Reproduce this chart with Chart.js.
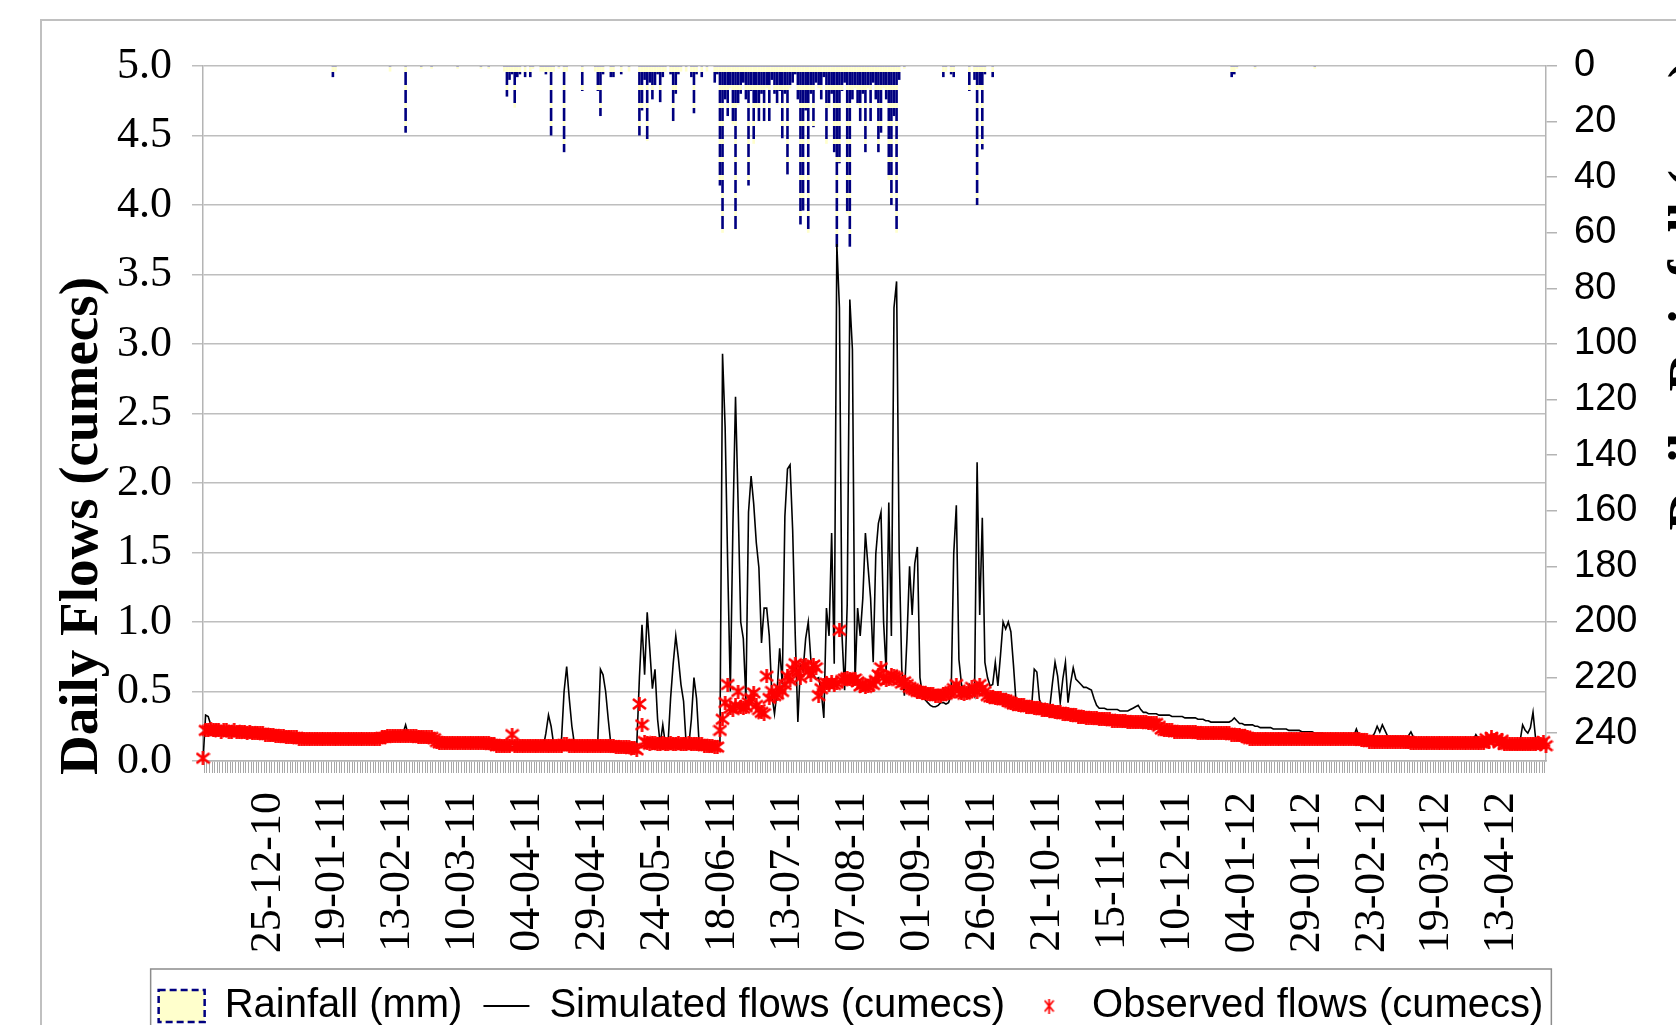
<!DOCTYPE html>
<html>
<head>
<meta charset="utf-8">
<title>Daily flows and rainfall</title>
<script src="https://cdn.jsdelivr.net/npm/chart.js@4.4.1/dist/chart.umd.min.js"></script>
<style>
  html, body { margin: 0; padding: 0; background: #fff; overflow: hidden; }
  #wrap { position: absolute; left: 0; top: 0; }
</style>
</head>
<body>
<div id="wrap"><canvas id="myChart" width="1760" height="1036"></canvas></div>
<script>

// x-axis: one category per day from 30-11-2010, label shown every 25 days
var tickLabels = ['25-12-10', '19-01-11', '13-02-11', '10-03-11', '04-04-11', '29-04-11', '24-05-11',
	'18-06-11', '13-07-11', '07-08-11', '01-09-11', '26-09-11', '21-10-11', '15-11-11', '10-12-11',
	'04-01-12', '29-01-12', '23-02-12', '19-03-12', '13-04-12'];

// daily rainfall (mm), right axis (reversed)
var rainfall = [
	0,0,0,0,0,0,0,0,0,0,0,0,0,0,0,0,0,0,0,0,0,0,0,0,0,
	0,0,0,0,0,0,0,0,0,0,0,0,0,0,0,0,0,0,0,0,0,0,0,0,0,
	4,2,0,0,0,0,0,0,0,0,0,0,0,0,0,0,0,0,0,0,0,0,2,0,0,
	0,0,0,24,0,0,0,0,0,1,0,0,0,1,0,0,0,0,0,0,0,0,0,1,0,
	0,0,0,0,0,0,0,1,0,0,1,0,0,0,0,0,2,11,5,3,15,4,3,0,4,
	0,4,1,0,0,2,2,3,2,25,2,0,1,0,31,2,0,0,0,0,0,9,0,0,0,
	0,2,9,18,3,0,0,4,4,0,0,3,0,0,2,0,0,0,25,16,5,27,6,12,7,
	3,13,4,2,0,3,20,10,3,2,0,2,0,4,17,3,0,4,0,2,0,0,6,3,43,
	60,12,18,8,21,59,14,10,6,12,43,9,28,15,20,10,20,8,20,5,10,14,9,26,10,
	39,8,6,3,12,57,52,16,60,10,22,6,8,12,4,28,15,10,31,66,35,9,6,53,65,
	12,8,14,20,10,31,8,20,6,12,31,24,8,12,41,50,18,60,5,0,1,0,0,0,0,
	0,0,0,0,0,0,0,0,0,0,4,2,0,3,4,0,0,0,0,0,9,0,5,50,8,
	30,3,0,0,4,0,0,0,0,0,0,0,0,0,0,0,0,0,0,0,0,0,0,0,0,
	0,0,0,0,0,0,0,0,0,0,0,0,0,0,0,0,0,0,0,0,0,0,0,0,0,
	0,0,0,0,0,0,0,0,0,0,0,0,0,0,0,0,0,0,0,0,0,0,0,0,0,
	0,0,0,0,0,0,0,0,0,0,0,0,0,0,0,0,0,0,0,0,0,4,3,1,0,
	0,0,0,0,0,1,0,0,0,0,0,0,0,0,0,0,0,0,0,0,0,0,0,0,0,
	0,0,0,1,0,0,0,0,0,0,0,0,0,0,0,0,0,0,0,0,0,0,0,0,0,
	0,0,0,0,0,0,0,0,0,0,0,0,0,0,0,0,0,0,0,0,0,0,0,0,0,
	0,0,0,0,0,0,0,0,0,0,0,0,0,0,0,0,0,0,0,0,0,0,0,0,0,
	0,0,0,0,0,0,0,0,0,0,0,0,0,0,0,0,0,0
];

// simulated daily flows (cumecs)
var simulated = [
	0.00,0.33,0.32,0.26,0.22,0.21,0.21,0.21,0.21,0.21,0.21,0.20,0.20,0.20,0.20,0.20,0.20,0.20,0.19,0.19,0.19,0.19,0.19,0.19,0.18,
	0.18,0.18,0.18,0.17,0.17,0.17,0.17,0.17,0.16,0.16,0.16,0.16,0.16,0.16,0.15,0.15,0.15,0.15,0.15,0.15,0.15,0.15,0.15,0.15,0.15,
	0.15,0.15,0.15,0.15,0.15,0.15,0.15,0.15,0.15,0.15,0.15,0.15,0.15,0.15,0.15,0.15,0.15,0.15,0.15,0.16,0.16,0.17,0.17,0.17,0.17,
	0.17,0.17,0.20,0.26,0.19,0.17,0.17,0.17,0.16,0.16,0.16,0.16,0.16,0.16,0.15,0.13,0.12,0.12,0.12,0.12,0.12,0.12,0.12,0.12,0.12,
	0.12,0.12,0.12,0.12,0.12,0.12,0.12,0.12,0.12,0.12,0.12,0.11,0.11,0.10,0.10,0.10,0.10,0.10,0.10,0.10,0.10,0.10,0.10,0.10,0.10,
	0.10,0.10,0.10,0.10,0.10,0.10,0.10,0.20,0.33,0.25,0.12,0.10,0.10,0.15,0.50,0.68,0.45,0.25,0.12,0.10,0.10,0.10,0.10,0.10,0.10,
	0.10,0.10,0.15,0.66,0.62,0.50,0.30,0.12,0.10,0.10,0.10,0.10,0.10,0.10,0.10,0.10,0.10,0.12,0.60,0.98,0.62,1.07,0.80,0.52,0.66,
	0.30,0.12,0.26,0.12,0.12,0.45,0.70,0.90,0.74,0.55,0.43,0.12,0.11,0.30,0.60,0.45,0.12,0.11,0.11,0.11,0.10,0.10,0.10,0.10,0.12,
	2.93,2.40,1.40,0.50,1.70,2.62,1.85,1.00,0.88,0.44,1.79,2.05,1.85,1.57,1.39,0.85,1.10,1.10,0.90,0.47,0.34,0.50,0.81,0.55,1.76,
	2.10,2.13,1.66,0.90,0.28,0.69,0.65,0.88,1.00,0.73,0.62,0.59,0.60,0.50,0.31,1.10,0.90,1.64,0.70,3.72,3.26,0.90,0.51,1.13,3.32,
	2.96,0.56,1.10,0.90,1.17,1.64,1.40,1.17,0.71,1.49,1.71,1.79,1.00,0.64,1.86,0.90,3.26,3.45,1.50,0.66,0.47,0.88,1.40,1.05,1.42,
	1.54,0.60,0.47,0.44,0.42,0.40,0.39,0.39,0.40,0.42,0.42,0.41,0.42,0.47,1.49,1.84,0.73,0.55,0.50,0.47,0.55,0.52,0.47,2.15,1.05,
	1.75,0.71,0.60,0.54,0.55,0.71,0.54,0.76,1.00,0.95,1.00,0.93,0.69,0.42,0.40,0.40,0.39,0.39,0.39,0.39,0.66,0.64,0.44,0.40,0.39,
	0.39,0.39,0.56,0.71,0.61,0.42,0.59,0.71,0.42,0.56,0.67,0.59,0.57,0.55,0.53,0.53,0.52,0.51,0.45,0.40,0.38,0.38,0.38,0.37,0.37,
	0.37,0.37,0.37,0.36,0.36,0.36,0.36,0.37,0.38,0.39,0.40,0.37,0.35,0.35,0.34,0.34,0.34,0.34,0.33,0.33,0.33,0.33,0.33,0.32,0.32,
	0.32,0.32,0.32,0.31,0.31,0.31,0.31,0.31,0.30,0.30,0.30,0.29,0.29,0.28,0.28,0.28,0.28,0.28,0.28,0.28,0.28,0.29,0.31,0.29,0.27,
	0.27,0.26,0.26,0.26,0.26,0.25,0.25,0.24,0.24,0.24,0.24,0.24,0.23,0.23,0.23,0.23,0.23,0.23,0.22,0.22,0.22,0.22,0.22,0.21,0.21,
	0.21,0.21,0.21,0.20,0.20,0.20,0.20,0.19,0.19,0.19,0.19,0.19,0.18,0.18,0.18,0.18,0.18,0.18,0.18,0.23,0.18,0.17,0.17,0.17,0.17,
	0.17,0.20,0.25,0.21,0.26,0.22,0.18,0.17,0.17,0.17,0.17,0.16,0.16,0.16,0.18,0.21,0.17,0.16,0.16,0.16,0.16,0.16,0.16,0.16,0.16,
	0.15,0.15,0.15,0.15,0.15,0.15,0.15,0.15,0.15,0.15,0.15,0.15,0.15,0.15,0.15,0.19,0.16,0.15,0.15,0.15,0.15,0.15,0.15,0.15,0.15,
	0.17,0.14,0.14,0.14,0.14,0.14,0.14,0.14,0.26,0.22,0.20,0.24,0.35,0.16,0.14,0.14,0.13,0.13
];

// observed daily flows (cumecs)
var observed = [
	0.02,0.22,0.22,0.23,0.22,0.22,0.22,0.21,0.22,0.22,0.21,0.21,0.22,0.21,0.21,0.21,0.21,0.20,0.21,0.20,0.20,0.20,0.20,0.20,0.19,
	0.19,0.19,0.19,0.18,0.18,0.18,0.18,0.17,0.17,0.17,0.17,0.17,0.16,0.16,0.16,0.16,0.16,0.16,0.16,0.16,0.16,0.16,0.16,0.16,0.16,
	0.16,0.16,0.16,0.16,0.16,0.16,0.16,0.16,0.16,0.16,0.16,0.16,0.16,0.16,0.16,0.16,0.16,0.16,0.16,0.17,0.17,0.18,0.18,0.18,0.18,
	0.18,0.18,0.18,0.18,0.18,0.18,0.18,0.18,0.17,0.17,0.17,0.17,0.17,0.17,0.16,0.14,0.13,0.13,0.13,0.13,0.13,0.13,0.13,0.13,0.13,
	0.13,0.13,0.13,0.13,0.13,0.13,0.13,0.13,0.13,0.13,0.13,0.12,0.12,0.11,0.11,0.11,0.11,0.11,0.11,0.19,0.11,0.11,0.11,0.11,0.11,
	0.11,0.11,0.11,0.11,0.11,0.11,0.11,0.11,0.11,0.11,0.11,0.11,0.11,0.11,0.12,0.12,0.11,0.11,0.11,0.11,0.11,0.11,0.11,0.11,0.11,
	0.11,0.11,0.11,0.11,0.11,0.11,0.11,0.11,0.11,0.10,0.10,0.10,0.10,0.10,0.10,0.09,0.09,0.08,0.41,0.26,0.14,0.13,0.12,0.13,0.13,
	0.12,0.12,0.13,0.12,0.12,0.13,0.12,0.12,0.13,0.12,0.12,0.12,0.13,0.12,0.12,0.12,0.12,0.12,0.11,0.11,0.11,0.11,0.10,0.10,0.22,
	0.30,0.42,0.55,0.38,0.37,0.40,0.50,0.39,0.38,0.39,0.42,0.45,0.49,0.40,0.37,0.35,0.34,0.61,0.45,0.50,0.47,0.48,0.52,0.50,0.55,
	0.61,0.58,0.66,0.70,0.64,0.60,0.68,0.69,0.65,0.62,0.69,0.67,0.47,0.52,0.55,0.56,0.55,0.57,0.55,0.56,0.94,0.58,0.59,0.60,0.59,
	0.58,0.59,0.57,0.54,0.55,0.53,0.54,0.56,0.55,0.58,0.62,0.67,0.60,0.58,0.59,0.62,0.61,0.60,0.58,0.56,0.57,0.55,0.53,0.52,0.51,
	0.50,0.50,0.49,0.49,0.48,0.48,0.48,0.47,0.47,0.47,0.48,0.48,0.49,0.50,0.52,0.55,0.51,0.49,0.48,0.49,0.50,0.53,0.51,0.50,0.55,
	0.52,0.50,0.47,0.46,0.46,0.45,0.45,0.45,0.44,0.44,0.43,0.42,0.41,0.41,0.40,0.40,0.40,0.39,0.39,0.39,0.38,0.38,0.38,0.37,0.37,
	0.37,0.36,0.36,0.35,0.35,0.35,0.34,0.34,0.34,0.33,0.33,0.33,0.32,0.32,0.32,0.31,0.31,0.31,0.31,0.31,0.30,0.30,0.30,0.30,0.30,
	0.29,0.29,0.29,0.29,0.29,0.29,0.28,0.28,0.28,0.28,0.28,0.28,0.28,0.28,0.27,0.27,0.27,0.27,0.25,0.23,0.22,0.22,0.22,0.22,0.21,
	0.21,0.21,0.21,0.21,0.21,0.21,0.21,0.21,0.20,0.20,0.20,0.20,0.20,0.20,0.20,0.20,0.20,0.20,0.20,0.20,0.20,0.19,0.19,0.19,0.19,
	0.18,0.18,0.17,0.16,0.16,0.16,0.16,0.16,0.16,0.16,0.16,0.16,0.16,0.16,0.16,0.16,0.16,0.16,0.16,0.16,0.16,0.16,0.16,0.16,0.16,
	0.16,0.16,0.16,0.16,0.16,0.16,0.16,0.16,0.16,0.16,0.16,0.16,0.16,0.16,0.16,0.16,0.16,0.16,0.16,0.16,0.16,0.15,0.15,0.15,0.14,
	0.14,0.14,0.14,0.14,0.14,0.14,0.14,0.14,0.14,0.14,0.14,0.14,0.14,0.14,0.14,0.13,0.13,0.13,0.13,0.13,0.13,0.13,0.13,0.13,0.13,
	0.13,0.13,0.13,0.13,0.13,0.13,0.13,0.13,0.13,0.13,0.13,0.13,0.13,0.13,0.13,0.13,0.13,0.13,0.13,0.16,0.14,0.17,0.15,0.16,0.13,
	0.15,0.12,0.12,0.12,0.12,0.12,0.12,0.12,0.12,0.12,0.12,0.12,0.12,0.12,0.13,0.12,0.14,0.11
];

function pad2(n){ return (n < 10 ? '0' : '') + n; }

var categories = [];
for (var i = 0; i < rainfall.length; i++) {
	var d = new Date(2010, 10, 30 + i);
	categories.push(pad2(d.getDate()) + '-' + pad2(d.getMonth() + 1) + '-' + String(d.getFullYear()).slice(2));
}

var canvas = document.getElementById('myChart');
var ctx = canvas.getContext('2d');

// dashed navy fill with pale yellow gaps for the rainfall bars
var pc = document.createElement('canvas');
pc.width = 4; pc.height = 18;
var pg = pc.getContext('2d');
pg.fillStyle = '#FFFFCC'; pg.fillRect(0, 0, 4, 18);
pg.fillStyle = '#000080'; pg.fillRect(0, 0, 4, 13);
var rainFill = ctx.createPattern(pc, 'repeat');

// red asterisk marker (x with a vertical bar)
function asterisk(w, h, lw) {
	var c = document.createElement('canvas');
	c.width = w; c.height = h;
	var g = c.getContext('2d');
	g.strokeStyle = '#FF0000'; g.lineWidth = lw;
	g.beginPath();
	g.moveTo(1, 2); g.lineTo(w - 1, h - 2);
	g.moveTo(w - 1, 2); g.lineTo(1, h - 2);
	g.moveTo(w / 2, 0); g.lineTo(w / 2, h);
	g.stroke();
	return c;
}
var mk = asterisk(15, 14, 2.6);
var mkLegend = asterisk(11, 15, 1.8);

var serif = "'Liberation Serif', 'Times New Roman', serif";
var sans = "'Liberation Sans', Arial, sans-serif";
var gridGrey = '#BEBEBE';

var frames = {
	id: 'frames',
	beforeDraw: function(chart) {
		var c = chart.ctx;
		c.save();
		c.fillStyle = '#fff';
		c.fillRect(0, 0, chart.width, chart.height);
		c.strokeStyle = '#C0C0C0';
		c.lineWidth = 2;
		c.strokeRect(41, 20, 2000, 2000);
		c.restore();
	},
	afterDraw: function(chart) {
		var c = chart.ctx;
		var boxes = chart.legend.legendHitBoxes;
		c.save();
		if (boxes && boxes.length) {
			var first = boxes[0], last = boxes[boxes.length - 1];
			c.strokeStyle = '#8C8C8C';
			c.lineWidth = 1.5;
			c.strokeRect(first.left - 8, chart.legend.top + 4, last.left + last.width - first.left + 16, 200);
		}
		// axis titles
		c.fillStyle = '#000';
		c.font = 'bold 55px ' + serif;
		c.textBaseline = 'middle';
		c.translate(83, 775);
		c.rotate(-Math.PI / 2);
		c.textAlign = 'left';
		c.fillText('Daily Flows (cumecs)', 0, 0);
		c.setTransform(1, 0, 0, 1, 0, 0);
		c.translate(1692, 60);
		c.rotate(-Math.PI / 2);
		c.textAlign = 'right';
		c.fillText('Daily Rainfall (mm)', 0, 0);
		c.restore();
	}
};

var chart = new Chart(ctx, {
	data: {
		labels: categories,
		datasets: [
			{
				type: 'bar',
				label: 'Rainfall (mm)',
				data: rainfall,
				yAxisID: 'y1',
				backgroundColor: rainFill,
				borderWidth: 0,
				inflateAmount: 0,
				barPercentage: 1.0,
				categoryPercentage: 1.0,
				order: 2
			},
			{
				type: 'line',
				label: 'Simulated flows (cumecs)',
				data: simulated,
				yAxisID: 'y',
				borderColor: '#000000',
				borderWidth: 1.6,
				pointRadius: 0,
				tension: 0,
				fill: false,
				order: 1
			},
			{
				type: 'line',
				label: 'Observed flows (cumecs)',
				data: observed,
				yAxisID: 'y',
				showLine: false,
				pointStyle: mk,
				pointRadius: 7,
				borderColor: '#FF0000',
				backgroundColor: '#FF0000',
				clip: false,
				order: 0
			}
		]
	},
	options: {
		responsive: false,
		animation: false,
		devicePixelRatio: 1,
		layout: { padding: { left: 0, right: 58, top: 66, bottom: 0 } },
		plugins: {
			tooltip: { enabled: false },
			legend: {
				position: 'bottom',
				labels: {
					usePointStyle: true,
					pointStyleWidth: 46,
					boxHeight: 32,
					padding: 21,
					color: '#000',
					font: { family: sans, size: 40 },
					generateLabels: function(chart) {
						var ds = chart.data.datasets;
						return [
							{ text: ds[0].label, datasetIndex: 0, pointStyle: 'rect', fillStyle: '#FFFFCC', strokeStyle: '#000080', lineWidth: 2.5, lineDash: [7, 4], fontColor: '#000' },
							{ text: ds[1].label, datasetIndex: 1, pointStyle: 'line', fillStyle: '#000', strokeStyle: '#000', lineWidth: 2, lineDash: [], fontColor: '#000' },
							{ text: ds[2].label, datasetIndex: 2, pointStyle: mkLegend, fillStyle: '#FF0000', strokeStyle: '#FF0000', lineWidth: 0, lineDash: [], fontColor: '#000' }
						];
					}
				}
			}
		},
		scales: {
			x: {
				type: 'category',
				offset: false,
				grid: { display: true, drawOnChartArea: false, drawTicks: true, tickLength: 12, color: '#A8A8A8', lineWidth: 1 },
				border: { display: true, color: '#B4B4B4', width: 1.5 },
				ticks: {
					autoSkip: false,
					maxRotation: 90,
					minRotation: 90,
					padding: 19,
					color: '#000',
					font: { family: serif, size: 44 },
					callback: function(value, index) {
						var l = categories[index];
						return tickLabels.indexOf(l) >= 0 ? l : '';
					}
				},
				afterFit: function(scale) { scale.height = 204; }
			},
			y: {
				position: 'left',
				min: 0,
				max: 5,
				ticks: {
					stepSize: 0.5,
					padding: 20,
					color: '#000',
					font: { family: serif, size: 44 },
					callback: function(v) { return v.toFixed(1); }
				},
				grid: { color: gridGrey, lineWidth: 1.5, tickLength: 11 },
				border: { color: '#B4B4B4', width: 1.5 },
				afterFit: function(scale) { scale.width = 203; }
			},
			y1: {
				position: 'right',
				reverse: true,
				min: 0,
				max: 250,
				ticks: {
					stepSize: 20,
					includeBounds: false,
					padding: 17,
					color: '#000',
					font: { family: sans, size: 38 }
				},
				grid: { drawOnChartArea: false, tickLength: 11, color: '#B4B4B4', lineWidth: 1.5 },
				border: { color: '#B4B4B4', width: 1.5 },
				afterFit: function(scale) { scale.width = 156; }
			}
		}
	},
	plugins: [frames]
});

</script>
</body>
</html>
